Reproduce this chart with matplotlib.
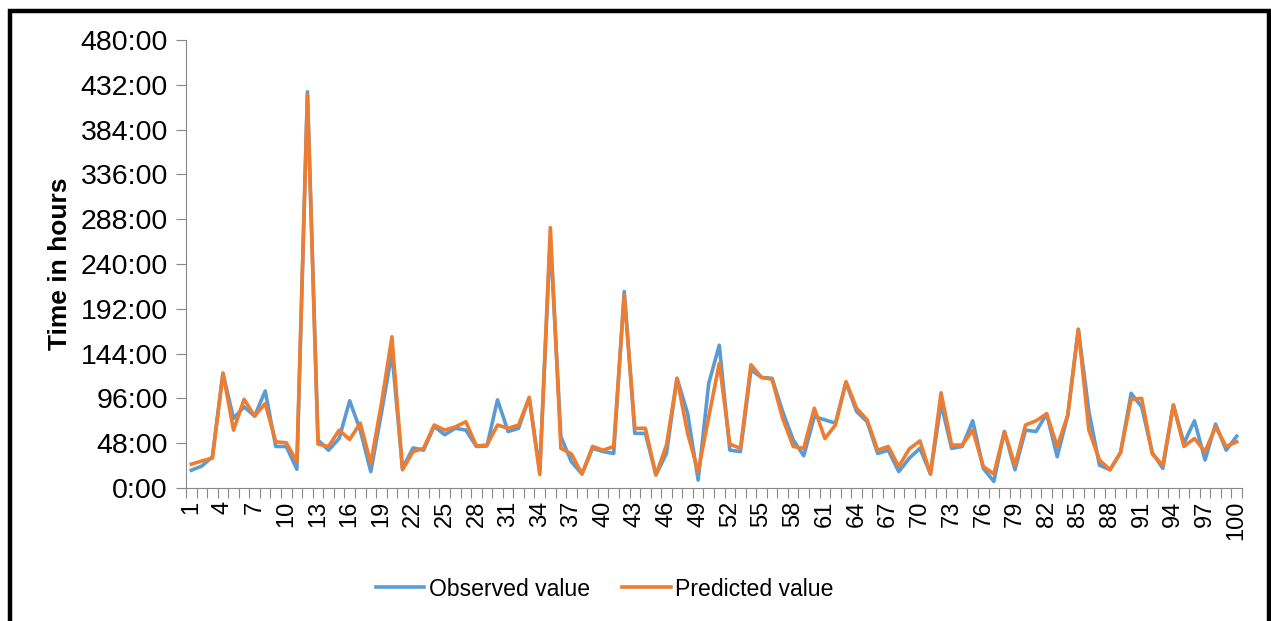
import numpy as np
from matplotlib import pyplot as plt
from matplotlib.patches import Rectangle
from matplotlib.ticker import FuncFormatter

plt.rcParams['font.family'] = ['Liberation Sans', 'DejaVu Sans']

# sample numbers 1..100
samples = np.arange(1, 101)

# observed time in hours
observed = [19, 23.5, 33.5, 123, 74.5, 87, 77, 104, 44.5, 44.5,
            20, 424.5, 51.5, 40.5, 53, 93.5, 62, 17.5, 80, 145,
            21, 43, 40.5, 66, 57, 64, 62, 44.5, 45, 94.5,
            60.5, 64, 97, 18, 268, 55, 28, 15, 42.5, 39,
            37, 210.5, 58.5, 58.5, 14, 37, 117.5, 80, 8.5, 112,
            153, 40.5, 39, 126.5, 118.5, 117.5, 82, 51.5, 34.5, 76.5,
            73, 69.5, 113, 82, 71, 37, 40.5, 17.5, 32, 42.5,
            15, 90.5, 42.5, 44.5, 72, 21, 7, 60.5, 19.5, 62,
            60.5, 79.5, 33.5, 78, 170, 82, 24.5, 19.5, 38, 101.5,
            87, 38, 21, 89, 48, 72, 30, 68.5, 40.5, 55.5]

# predicted time in hours
predicted = [25.5, 29, 32, 123, 62, 95, 77, 90.5, 49.5, 48.5,
             28, 421, 47, 44.5, 62, 52, 69.5, 26.5, 90, 162,
             19.5, 39, 42.5, 67.5, 62, 65.5, 71, 45, 46, 67.5,
             64, 67.5, 97, 14.5, 279, 42.5, 36.5, 15, 44.5, 40.5,
             44.5, 207, 64, 64, 14, 46, 117.5, 58.5, 17.5, 76,
             133.5, 47, 42.5, 132, 118.5, 116.5, 74.5, 44.5, 42.5, 85.5,
             53, 67.5, 114, 85.5, 73, 40.5, 44.5, 23, 42, 50.5,
             15, 102, 46, 46, 62, 23, 15, 60.5, 24.5, 67.5,
             72, 79.5, 44.5, 78, 170, 62, 30, 19.5, 38, 95,
             96, 36.5, 24.5, 89, 44.5, 53, 39, 65.5, 44.5, 49.5]

y_ticks = np.arange(0, 481, 48)
x_labels = samples[::3]

fig = plt.figure(figsize=(12.71, 6.21), dpi=100)
ax = fig.add_axes([186 / 1271, 1 - 488 / 621, 1056 / 1271, 448 / 621])

ax.plot(samples, observed, color='#5B9BD5', linewidth=2.6, label='Observed value')
ax.plot(samples, predicted, color='#ED7D31', linewidth=2.6, label='Predicted value')

ax.set_xlim(0.5, 100.5)
ax.set_ylim(0, 480)

# y axis: hour labels
ax.set_yticks(y_ticks)
ax.yaxis.set_major_formatter(FuncFormatter(lambda v, p: f"{int(v)}:00"))
ax.tick_params(axis='y', labelsize=20.5, length=7, color='#888888', pad=6)

# x axis: ticks between categories, labels every 3rd sample
ax.set_xticks(np.arange(0.5, 101, 1))
ax.set_xticklabels([])
ax.set_xticks(x_labels, minor=True)
ax.set_xticklabels([str(v) for v in x_labels], minor=True, rotation=90)
ax.tick_params(axis='x', which='major', length=7, color='#888888')
ax.tick_params(axis='x', which='minor', length=0, labelsize=17, pad=9)

for side in ['top', 'right']:
    ax.spines[side].set_visible(False)
for side in ['left', 'bottom']:
    ax.spines[side].set_color('#888888')

ax.set_ylabel('Time in hours', fontsize=19, fontweight='bold')
ax.yaxis.set_label_coords(-0.108, 0.5)

fig.legend(loc='center', bbox_to_anchor=(605 / 1271, 1 - 589 / 621), ncol=2,
           frameon=False, fontsize=16.6, handlelength=2.1, handletextpad=0.2,
           columnspacing=1.4)

# black frame around the chart
fig.add_artist(Rectangle((9.5 / 1271, -0.05), 1259.5 / 1271, 1.05 - 11 / 621,
                         transform=fig.transFigure, fill=False,
                         edgecolor='black', linewidth=3.2))

fig.savefig('out.png', dpi=100)
